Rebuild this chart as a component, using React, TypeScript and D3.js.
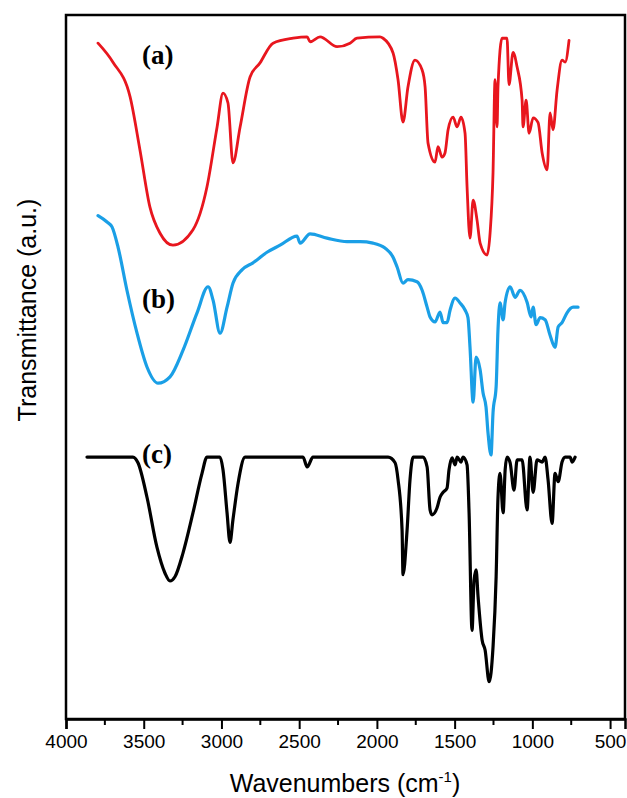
import React, { useEffect, useRef } from 'react';
import * as d3 from 'd3';

// Spectrum (a) - red
const wnA = [3794, 3698, 3588, 3524, 3460, 3395, 3312, 3183, 3093, 3028, 2990, 2958, 2926, 2880, 2816, 2752, 2668, 2539, 2449, 2430, 2366, 2256, 2173, 2128, 1980, 1960, 1896, 1864, 1832, 1800, 1755, 1709, 1690, 1671, 1626, 1607, 1581, 1562, 1542, 1510, 1484, 1459, 1433, 1420, 1401, 1381, 1356, 1336, 1291, 1272, 1253, 1240, 1227, 1221, 1195, 1163, 1150, 1124, 1098, 1066, 1060, 1040, 1021, 995, 963, 937, 905, 886, 867, 841, 809, 789, 764];
const tA = [96.0, 93.3, 88.4, 80.8, 72.7, 69.0, 67.3, 69.5, 75.6, 84.1, 88.9, 87.5, 79.0, 84.1, 91.2, 93.2, 96.0, 96.7, 96.9, 96.2, 96.9, 95.5, 96.0, 96.7, 96.9, 96.7, 94.6, 90.8, 84.8, 89.8, 93.6, 92.2, 89.8, 81.8, 79.1, 81.3, 79.8, 80.4, 83.7, 85.5, 84.1, 85.5, 83.2, 75.6, 68.3, 73.7, 70.9, 67.6, 65.9, 69.0, 77.6, 90.8, 84.1, 89.8, 96.7, 96.7, 90.1, 94.7, 92.6, 87.9, 84.1, 87.9, 83.2, 85.4, 84.7, 80.4, 78.0, 86.1, 83.7, 89.3, 93.6, 93.3, 96.4];

// Spectrum (b) - blue
const wnB = [3794, 3736, 3704, 3665, 3608, 3543, 3479, 3408, 3331, 3247, 3157, 3086, 3054, 3009, 2964, 2926, 2868, 2797, 2707, 2623, 2514, 2494, 2430, 2321, 2192, 2108, 2025, 1948, 1896, 1870, 1832, 1800, 1742, 1709, 1677, 1658, 1626, 1594, 1574, 1549, 1529, 1497, 1465, 1433, 1414, 1401, 1381, 1362, 1336, 1317, 1298, 1285, 1266, 1253, 1233, 1221, 1208, 1188, 1175, 1143, 1111, 1079, 1034, 1008, 995, 976, 950, 918, 886, 854, 834, 809, 777, 738, 706];
const tB = [71.5, 70.6, 69.9, 67.0, 60.9, 54.8, 50.0, 47.7, 48.6, 52.4, 57.7, 61.4, 59.5, 54.8, 58.5, 61.9, 63.8, 64.8, 66.3, 67.3, 68.6, 67.6, 68.9, 68.3, 67.8, 67.8, 67.6, 66.9, 65.6, 64.2, 61.9, 62.4, 62.1, 60.9, 58.5, 57.1, 56.4, 57.8, 56.3, 56.3, 58.1, 59.8, 59.1, 58.1, 57.0, 52.8, 45.0, 51.4, 49.6, 46.3, 44.3, 40.6, 37.5, 43.5, 47.2, 55.3, 59.1, 56.7, 59.2, 61.4, 59.9, 60.9, 59.2, 57.1, 58.5, 56.0, 57.0, 56.7, 54.5, 52.8, 55.7, 56.3, 57.7, 58.5, 58.5];

// Spectrum (c) - black
const wnC = [3865, 3569, 3537, 3479, 3415, 3363, 3331, 3299, 3247, 3183, 3125, 3093, 3009, 2990, 2964, 2945, 2926, 2893, 2848, 2475, 2449, 2411, 1928, 1883, 1864, 1838, 1832, 1806, 1787, 1767, 1703, 1677, 1658, 1645, 1613, 1594, 1574, 1549, 1536, 1516, 1497, 1484, 1459, 1446, 1420, 1407, 1388, 1375, 1362, 1349, 1323, 1304, 1278, 1253, 1233, 1221, 1208, 1188, 1175, 1163, 1143, 1118, 1098, 1066, 1034, 1015, 995, 970, 937, 918, 899, 873, 854, 834, 809, 789, 757, 744, 725];
const tC = [37.2, 37.2, 36.4, 31.5, 24.4, 20.7, 19.6, 20.2, 23.6, 29.3, 34.9, 37.2, 37.2, 35.4, 29.3, 25.1, 28.3, 33.5, 37.2, 37.2, 35.8, 37.2, 37.2, 36.4, 34.0, 26.8, 20.5, 26.8, 34.0, 37.2, 37.2, 35.8, 29.7, 29.0, 30.0, 31.5, 32.2, 32.8, 35.4, 37.1, 36.1, 37.2, 36.5, 37.2, 36.1, 29.3, 12.6, 19.7, 21.2, 17.3, 11.2, 9.8, 5.3, 10.2, 20.2, 31.5, 34.9, 29.3, 35.4, 37.2, 36.4, 32.5, 36.8, 36.8, 29.7, 37.2, 32.2, 36.8, 36.5, 37.2, 34.0, 27.8, 34.9, 33.7, 36.5, 37.2, 37.2, 36.5, 37.2];

const majorTicks = [4000, 3500, 3000, 2500, 2000, 1500, 1000, 500];
const minorTicks = [3750, 3250, 2750, 2250, 1750, 1250, 750];

const series = [
  { name: '(a)', wn: wnA, t: tA, color: '#e8161e', width: 2.8, labelY: 64 },
  { name: '(b)', wn: wnB, t: tB, color: '#1a9fe6', width: 3.2, labelY: 308 },
  { name: '(c)', wn: wnC, t: tC, color: '#000000', width: 3.2, labelY: 463 },
];

const App = () => {
  const chartRef = useRef<SVGSVGElement | null>(null);

  useEffect(() => {
    const width = 627;
    const height = 798;
    const margin = { top: 15, right: 2, bottom: 79, left: 66 };

    const svg = d3.select(chartRef.current);
    svg.selectAll('*').remove();
    svg.attr('width', width).attr('height', height);

    // Scales
    const x = d3.scaleLinear()
      .domain([4000, 404])
      .range([margin.left, width - margin.right]);

    const y = d3.scaleLinear()
      .domain([0, 100])
      .range([height - margin.bottom, margin.top]);

    // Curves
    const line = d3.line<[number, number]>()
      .x(d => x(d[0]))
      .y(d => y(d[1]))
      .curve(d3.curveMonotoneX);

    series.forEach(s => {
      const pts: [number, number][] = s.wn.map((w, i) => [w, s.t[i]]);
      svg.append('path')
        .datum(pts)
        .attr('fill', 'none')
        .attr('stroke', s.color)
        .attr('stroke-width', s.width)
        .attr('stroke-linejoin', 'round')
        .attr('stroke-linecap', 'round')
        .attr('d', line);

      svg.append('text')
        .attr('x', 142)
        .attr('y', s.labelY)
        .attr('font-family', '"Liberation Serif", "Times New Roman", serif')
        .attr('font-weight', 'bold')
        .attr('font-size', '27px')
        .attr('fill', '#000')
        .text(s.name);
    });

    // Frame
    svg.append('rect')
      .attr('x', x(4000))
      .attr('y', y(100))
      .attr('width', x(404) - x(4000))
      .attr('height', y(0) - y(100))
      .attr('fill', 'none')
      .attr('stroke', '#000')
      .attr('stroke-width', 2.5);

    // X axis
    const axis = svg.append('g')
      .attr('transform', `translate(0,${y(0)})`);

    axis.call(
      d3.axisBottom(x)
        .tickValues(majorTicks)
        .tickFormat(d3.format('d'))
        .tickSize(10)
        .tickPadding(6)
    );

    axis.selectAll('.minor')
      .data(minorTicks)
      .enter()
      .append('line')
      .attr('class', 'minor')
      .attr('x1', d => x(d))
      .attr('x2', d => x(d))
      .attr('y1', 0)
      .attr('y2', 6)
      .attr('stroke', '#000')
      .attr('stroke-width', 2);

    axis.select('.domain').attr('stroke-width', 2.5);
    axis.selectAll('.tick line').attr('stroke-width', 2);
    axis.selectAll('.tick text')
      .attr('font-family', '"Liberation Sans", Arial, sans-serif')
      .attr('font-size', '19px')
      .attr('fill', '#000');

    // X axis label
    const xl = svg.append('text')
      .attr('x', 345)
      .attr('y', 792)
      .attr('text-anchor', 'middle')
      .attr('font-family', '"Liberation Sans", Arial, sans-serif')
      .attr('font-size', '25px')
      .attr('fill', '#000');
    xl.append('tspan').text('Wavenumbers (cm');
    xl.append('tspan').attr('dy', -10).attr('font-size', '15px').text('-1');
    xl.append('tspan').attr('dy', 10).text(')');

    // Y axis label
    svg.append('text')
      .attr('transform', 'translate(36,310) rotate(-90)')
      .attr('text-anchor', 'middle')
      .attr('font-family', '"Liberation Sans", Arial, sans-serif')
      .attr('font-size', '25px')
      .attr('fill', '#000')
      .text('Transmittance (a.u.)');
  }, []);

  return (
    <svg ref={chartRef} style={{ position: 'absolute', left: 0, top: 0, background: '#fff' }} />
  );
};

export default App;
